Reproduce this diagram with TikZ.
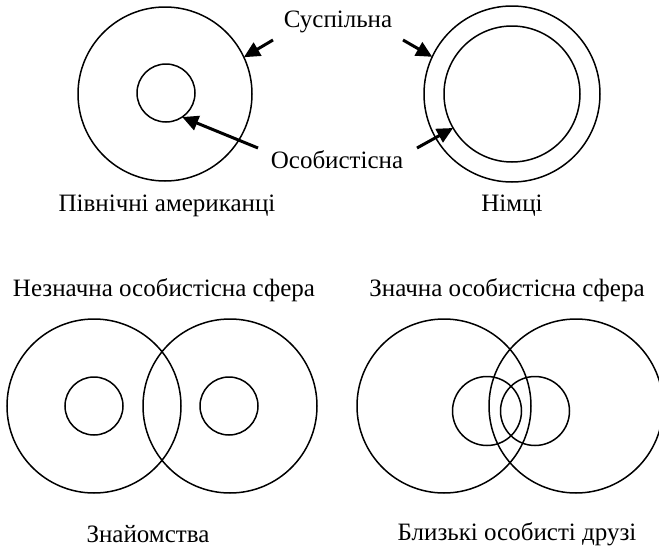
\documentclass[tikz,border=0pt]{standalone}
\usepackage{fontspec}
\setmainfont{Liberation Serif}
\usetikzlibrary{arrows.meta}
\tikzset{
  ring/.style={circle, draw, line width=1.5pt, inner sep=0pt, outer sep=0pt, minimum size=#1},
  lbl/.style={font=\fontsize{25}{30}\selectfont, inner sep=0pt},
  ptr/.style={line width=3pt, -{Triangle[length=16pt,width=15pt]}}
}
\begin{document}
\begin{tikzpicture}[x=1pt, y=-1pt]
	  \useasboundingbox (0,0) rectangle (659,549);
	  % top: two spheres
	  \node[ring=174pt] (na) at (165,94) {};
	  \node[ring=58pt] (nai) at (166,93) {};
	  \node[ring=176pt] (de) at (512,94) {};
	  \node[ring=136pt] (dei) at (512,94) {};
	  
	  \node[lbl] (pub) at (338,22) {Суспільна};
	  \node[lbl] (priv) at (337,160) {Особистісна};
	  \node[lbl] (nacap) at (167,206) {Північні американці};
	  \node[lbl] (decap) at (512,206) {Німці};
	  
	  \coordinate (t1) at (273,40);
	  \coordinate (t2) at (258,148);
	  \coordinate (t3) at (403,40);
	  \coordinate (t4) at (417,148);
	  
	  \draw[ptr] (t1) -- (na.25);
	  \draw[ptr] (t2) -- (nai.-56);
	  \draw[ptr] (t3) -- (de.155);
	  \draw[ptr] (t4) -- (dei.210);
	  
	  % bottom: two pairs
	  \node[lbl] (smallcap) at (164,290) {Незначна особистісна сфера};
	  \node[lbl] (bigcap) at (507,290) {Значна особистісна сфера};
	  
	  \node[ring=174pt] (a1) at (94,406) {};
	  \node[ring=174pt] (a2) at (230,406) {};
	  \node[ring=58pt] (a1i) at (94,406) {};
	  \node[ring=58pt] (a2i) at (229,406) {};
	  
	  \node[ring=174pt] (f1) at (444,406) {};
	  \node[ring=174pt] (f2) at (576,406) {};
	  \node[ring=69pt] (f1i) at (487,411) {};
	  \node[ring=69pt] (f2i) at (535,411) {};
	  
	  \node[lbl] (acap) at (148,534) {Знайомства};
	  \node[lbl] (fcap) at (517,534) {Близькі особисті друзі};
\end{tikzpicture}
\end{document}
